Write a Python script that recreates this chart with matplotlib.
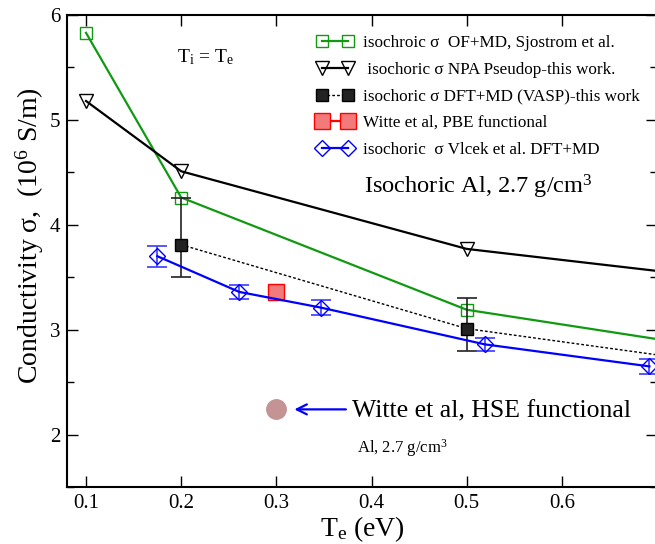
import matplotlib
matplotlib.use("Agg")
import matplotlib.pyplot as plt
from matplotlib.ticker import MultipleLocator

plt.rcParams["font.family"] = ["Liberation Serif", "DejaVu Serif"]
plt.rcParams["mathtext.fontset"] = "custom"
plt.rcParams["mathtext.rm"] = "Liberation Serif"
plt.rcParams["mathtext.it"] = "Liberation Serif:italic"

# Sjostrom et al. OF+MD (last point at the right edge, no marker shown)
sj_t = [0.1, 0.2, 0.5, 0.7]
sj_s = [5.83, 4.26, 3.19, 2.91]

# NPA pseudopotential, this work
npa_t = [0.1, 0.2, 0.5, 0.7]
npa_s = [5.18, 4.51, 3.77, 3.56]

# DFT+MD (VASP), this work
vasp_t = [0.2, 0.5, 0.7]
vasp_s = [3.81, 3.01, 2.76]
vasp_err_lo = [0.31, 0.21, 0.0]
vasp_err_hi = [0.45, 0.29, 0.0]

# Witte et al. PBE / HSE
pbe_t = [0.3]
pbe_s = [3.36]
hse_t = [0.3]
hse_s = [2.24]

# Vlcek et al. DFT+MD
vl_t = [0.175, 0.261, 0.347, 0.519, 0.692]
vl_s = [3.70, 3.36, 3.21, 2.86, 2.65]
vl_err = [0.1, 0.07, 0.07, 0.06, 0.07]

fig = plt.figure(figsize=(6.55, 5.44), dpi=100)
ax = fig.add_axes([67 / 655, 1 - 487 / 544, 590 / 655, 472 / 544])

ax.plot(sj_t, sj_s, color="#119911", lw=1.6, marker="s", ms=8, mfc="none",
        mec="#119911", mew=1.0, markevery=[0, 1, 2],
        label="isochroic σ  OF+MD, Sjostrom et al.")
ax.plot(npa_t, npa_s, color="black", lw=1.6, marker="v", ms=10, mfc="none",
        mec="black", mew=1.0, markevery=[0, 1, 2],
        label=" isochoric σ NPA Pseudop-this work.")
ax.errorbar(vasp_t[:2], vasp_s[:2], yerr=[vasp_err_lo[:2], vasp_err_hi[:2]],
            fmt="none", ecolor="#222222", elinewidth=1.2, capsize=7, capthick=1.2)
ax.plot(vasp_t, vasp_s, color="black", lw=1.0, ls=(0, (2, 1.5)), marker="s",
        ms=9, mfc="#222222", mec="black", markevery=[0, 1],
        label="isochoric σ DFT+MD (VASP)-this work")
ax.plot(pbe_t, pbe_s, color="red", lw=1.6, ls="-", marker="s", ms=12,
        mfc="#f27a7a", mec="red", mew=1.0, label="Witte et al, PBE functional")
ax.errorbar(vl_t, vl_s, yerr=vl_err, fmt="none", ecolor="#3a3aff",
            elinewidth=1.2, capsize=7, capthick=1.2)
ax.plot(vl_t, vl_s, color="blue", lw=1.6, marker="D", ms=8, mfc="none",
        mec="blue", mew=1.0, label="isochoric  σ Vlcek et al. DFT+MD")
ax.plot(hse_t, hse_s, ls="none", marker="o", ms=14, mfc="#c49393", mec="#c49393")

ax.annotate("", xy=(0.316, hse_s[0]), xytext=(0.376, hse_s[0]),
            arrowprops=dict(arrowstyle="->", color="blue", lw=1.6,
                            mutation_scale=18))
ax.text(0.379, hse_s[0] - 0.02, "Witte et al, HSE functional", fontsize=18.5,
        va="center", ha="left")
ax.text(0.385, 1.87, r"Al, 2.7 g/cm$^{3}$", fontsize=12, va="center", ha="left")
ax.text(0.392, 4.36, r"Isochoric Al, 2.7 g/cm$^{3}$", fontsize=17.6,
        va="center", ha="left")
ax.text(0.196, 5.60, r"$\mathregular{T_i}$ = $\mathregular{T_e}$", fontsize=14,
        va="center", ha="left")

ax.set_xlim(0.08, 0.70)
ax.set_ylim(1.5, 6.0)
ax.set_xticks([0.1, 0.2, 0.3, 0.4, 0.5, 0.6])
ax.yaxis.set_major_locator(MultipleLocator(1))
ax.yaxis.set_minor_locator(MultipleLocator(0.5))
ax.tick_params(which="both", direction="in", top=True, right=True,
               labelsize=15, width=1.0, pad=5)
ax.tick_params(which="major", length=8)
ax.tick_params(which="minor", length=5)
for sp in ax.spines.values():
    sp.set_linewidth(1.5)

ax.set_xlabel(r"$\mathregular{T_e}$ (eV)", fontsize=20, labelpad=1)
ax.set_ylabel(r"Conductivity σ,  (10$^{6}$ S/m)", fontsize=20)
ax.yaxis.set_label_coords(-0.036, 0.532)

ax.legend(loc="upper left", bbox_to_anchor=(0.424, 0.957), frameon=False,
          fontsize=12.3, numpoints=2, handlelength=2.1, handletextpad=0.6,
          labelspacing=0.62, borderaxespad=0, borderpad=0)

fig.savefig("out.png", dpi=100)
